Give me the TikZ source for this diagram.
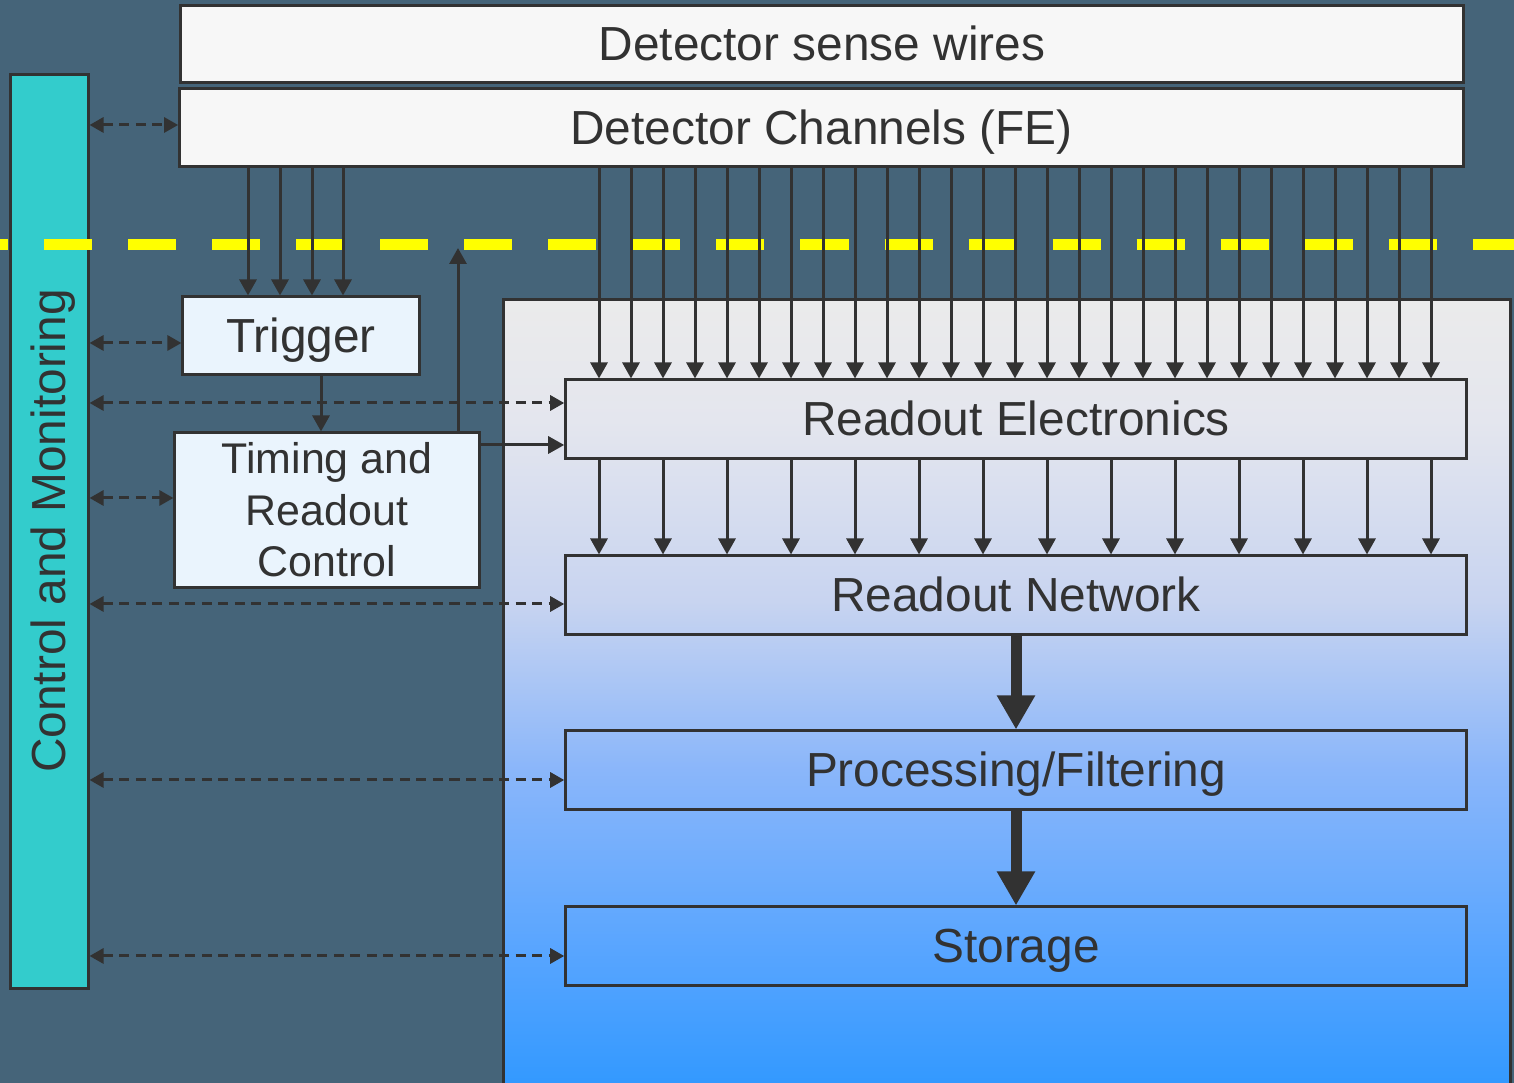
\documentclass[tikz,border=0pt]{standalone}
\usepackage{fontspec}
\setmainfont{Liberation Sans}
\usetikzlibrary{arrows.meta}
\definecolor{bg}{RGB}{69,100,121}
\definecolor{ink}{RGB}{50,50,50}
\definecolor{cmfill}{RGB}{51,204,204}
\definecolor{wbox}{RGB}{247,247,247}
\definecolor{lbox}{RGB}{234,244,253}
\definecolor{pA}{RGB}{51,153,255}
\definecolor{pB}{RGB}{88,165,255}
\definecolor{pC}{RGB}{138,182,250}
\definecolor{pD}{RGB}{200,212,240}
\definecolor{pE}{RGB}{228,230,238}
\definecolor{pF}{RGB}{235,235,235}
\definecolor{ylw}{RGB}{255,255,0}
\pgfdeclareverticalshading{panelshade}{100bp}{color(0bp)=(pA); color(25bp)=(pA); color(33.5bp)=(pB); color(45bp)=(pC); color(55.8bp)=(pD); color(67.3bp)=(pE); color(75bp)=(pF); color(100bp)=(pF)}
\newcommand\lblfont{\fontsize{13.6}{14.7}\selectfont}
\newcommand\trcfont{\fontsize{12.2}{14.65}\selectfont}
\tikzset{
  box/.style={draw=ink, line width=0.03cm, inner sep=0pt, text=ink, font=\lblfont, align=center},
  onel/.style={text height=9.6pt, text depth=0pt},
  arr/.style={draw=ink, line width=0.03cm, -{Triangle[length=0.16cm,width=0.17cm]}},
  darr/.style={draw=ink, line width=0.03cm, dash pattern=on 0.1cm off 0.065cm, {Triangle[length=0.14cm,width=0.15cm]}-{Triangle[length=0.14cm,width=0.15cm]}},
  bigarr/.style={draw=ink, line width=0.11cm, -{Triangle[length=0.34cm,width=0.36cm]}},
  yline/.style={draw=ylw, line width=0.11cm, dash pattern=on 0.48cm off 0.36cm}
}
\begin{document}
\begin{tikzpicture}[x=0.01cm, y=-0.01cm]
\useasboundingbox (0,0) rectangle (1514,1083);
\clip (0,0) rectangle (1514,1083);
\fill[bg] (0,0) rectangle (1514,1083);

% panel
\shade[shading=panelshade] (503,300) rectangle (1510,1083);
\draw[ink, line width=0.03cm] (503,1095) -- (503,300) -- (1510,300) -- (1510,1095);

% boxes
\node[box, fill=cmfill, minimum width=0.77cm, minimum height=9.13cm] (cm) at (49.5,531.5) {};
\node[text=ink, font=\lblfont, rotate=90, inner sep=0pt] (cmlabel) at (53,531) {Control and Monitoring};
\node[box, onel, fill=wbox, minimum width=12.82cm, minimum height=0.76cm] (sense) at (822,44) {Detector sense wires};
\node[box, onel, fill=wbox, minimum width=12.83cm, minimum height=0.77cm] (fe) at (821.5,127.5) {Detector Channels (FE)};
\node[box, onel, fill=lbox, minimum width=2.36cm, minimum height=0.77cm] (trig) at (301,335.5) {Trigger};
\node[box, fill=lbox, font=\trcfont, minimum width=3.04cm, minimum height=1.54cm] (trc) at (327,510) {Timing and\\Readout\\Control};
\node[box, onel, minimum width=9.00cm, minimum height=0.78cm] (re) at (1016,419) {Readout Electronics};
\node[box, onel, minimum width=9.00cm, minimum height=0.78cm] (rn) at (1016,595) {Readout Network};
\node[box, onel, minimum width=9.00cm, minimum height=0.78cm] (pf) at (1016,770) {Processing/Filtering};
\node[box, onel, minimum width=9.00cm, minimum height=0.78cm] (st) at (1016,946) {Storage};

% yellow boundary
\draw[yline] (-40,245) -- (1530,245);

% FE -> Trigger
\foreach \x in {248,280,312,343} {
  \coordinate (tx) at (\x,0);
  \draw[arr] (fe.south -| tx) -- (trig.north -| tx);
}
% FE -> Readout Electronics
\foreach \i [evaluate=\i as \x using 599+32*\i] in {0,...,26} {
  \coordinate (rx) at (\x,0);
  \draw[arr] (fe.south -| rx) -- (re.north -| rx);
}
% RE -> RN
\foreach \i [evaluate=\i as \x using 599+64*\i] in {0,...,13} {
  \coordinate (nx) at (\x,0);
  \draw[arr] (re.south -| nx) -- (rn.north -| nx);
}
% thick arrows
\draw[bigarr] (rn.south) -- (pf.north);
\draw[bigarr] (pf.south) -- (st.north);

% trigger / timing
\coordinate (tt) at (321,0);
\draw[arr] (trig.south -| tt) -- (trc.north -| tt);
\coordinate (uptip) at (458,248);
\draw[arr] (trc.north -| uptip) -- (uptip);
\coordinate (ty) at (0,445);
\draw[arr] (trc.east |- ty) -- (re.west |- ty);

% control and monitoring links
\coordinate (d1) at (0,125);
\coordinate (d2) at (0,343);
\coordinate (d3) at (0,403);
\coordinate (d4) at (0,498);
\coordinate (d5) at (0,604);
\coordinate (d6) at (0,780);
\coordinate (d7) at (0,956);
\draw[darr] (cm.east |- d1) -- (fe.west |- d1);
\draw[darr] (cm.east |- d2) -- (trig.west |- d2);
\draw[darr] (cm.east |- d3) -- (re.west |- d3);
\draw[darr] (cm.east |- d4) -- (trc.west |- d4);
\draw[darr] (cm.east |- d5) -- (rn.west |- d5);
\draw[darr] (cm.east |- d6) -- (pf.west |- d6);
\draw[darr] (cm.east |- d7) -- (st.west |- d7);
\end{tikzpicture}
\end{document}
